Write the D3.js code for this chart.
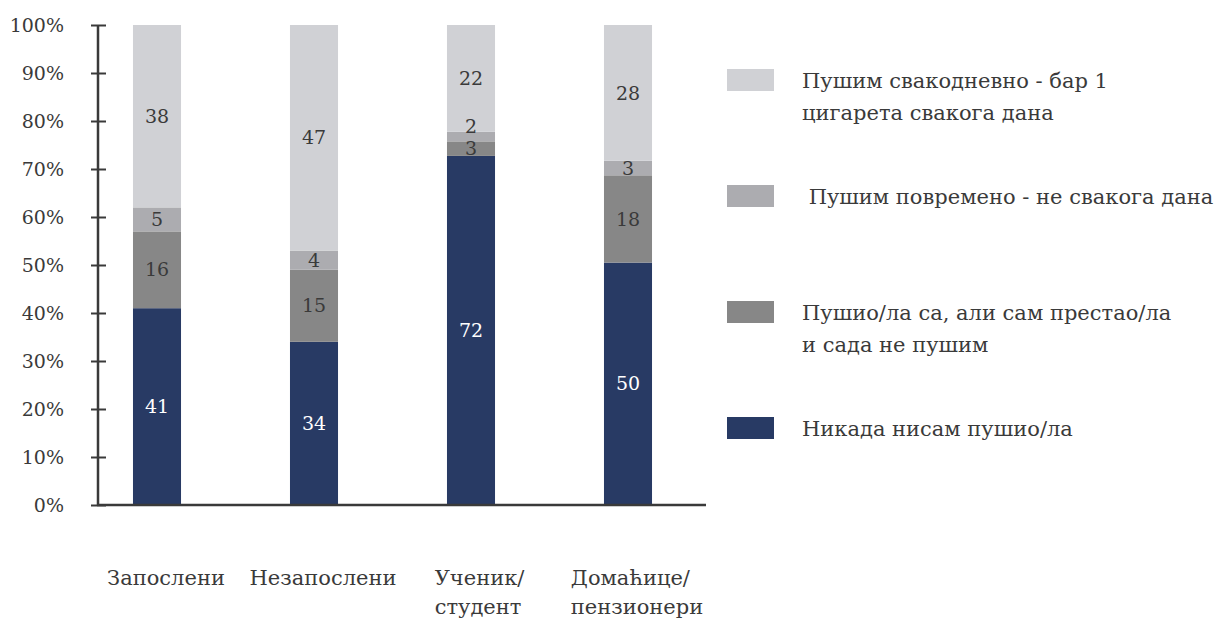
<!DOCTYPE html>
<html>
<head>
<meta charset="utf-8">
<script src="https://cdn.jsdelivr.net/npm/d3@7"></script>
<style>
  body { margin: 0; background: #fff; }
  svg text { font-family: "DejaVu Serif", serif; fill: #3a3a3a; }
</style>
</head>
<body>
<svg id="chart" width="1224" height="620"></svg>
<script>
// groups along the x axis
var groups = ["Запослени", "Незапослени", "Ученик/ студент", "Домаћице/ пензионери"];
var groupLines = [["Запослени"], ["Незапослени"], ["Ученик/", "студент"], ["Домаћице/", "пензионери"]];

// answers, bottom of the stack first
var series = ["Никада нисам пушио/ла", "Пушио/ла са, али сам престао/ла и сада не пушим",
    "Пушим повремено - не свакога дана", "Пушим свакодневно - бар 1 цигарета свакога дана"];
var colors = ["#283a64", "#878787", "#acacb0", "#d0d1d5"];

// values per group (same order as groups)
var never      = [41, 34, 72, 50];
var quit       = [16, 15, 3, 18];
var sometimes  = [5, 4, 2, 3];
var daily      = [38, 47, 22, 28];

var yTicks = [0, 10, 20, 30, 40, 50, 60, 70, 80, 90, 100];

// legend, top to bottom, with line breaks as in the picture
var legendLines = [
    ["Пушим свакодневно - бар 1", "цигарета свакога дана"],
    [" Пушим повремено - не свакога дана"],
    ["Пушио/ла са, али сам престао/ла", "и сада не пушим"],
    ["Никада нисам пушио/ла"]
];
var legendColors = [colors[3], colors[2], colors[1], colors[0]];

var svg = d3.select("#chart");
var fontSize = 19;      // numbers
var labelSize = 21;     // words

var rows = groups.map(function(g, i) {
    return {group: g, never: never[i], quit: quit[i], sometimes: sometimes[i], daily: daily[i]};
});
var keys = ["never", "quit", "sometimes", "daily"];
var values = {never: never, quit: quit, sometimes: sometimes, daily: daily};

// normalise each bar to 100%
var stack = d3.stack().keys(keys).offset(d3.stackOffsetExpand);
var stacked = stack(rows);

var x = d3.scaleBand()
    .domain(groups)
    .range([78.5, 706.5])
    .paddingInner(0.694)
    .paddingOuter(0.347);

var y = d3.scaleLinear()
    .domain([0, 1])
    .range([505, 25]);

// bars
var layer = svg.selectAll("g.layer")
    .data(stacked)
    .enter().append("g")
    .attr("class", "layer")
    .attr("fill", function(d, i) { return colors[i]; });

layer.selectAll("rect")
    .data(function(d) { return d; })
    .enter().append("rect")
    .attr("x", function(d) { return x(d.data.group); })
    .attr("y", function(d) { return y(d[1]); })
    .attr("width", x.bandwidth())
    .attr("height", function(d) { return y(d[0]) - y(d[1]); });

// segment labels, centred; a label too close to the one below is pushed up
var lastY = groups.map(function() { return 1e9; });
stacked.forEach(function(s, si) {
    svg.append("g").selectAll("text")
        .data(s)
        .enter().append("text")
        .attr("x", function(d) { return x(d.data.group) + x.bandwidth() / 2; })
        .attr("y", function(d, i) {
            var cy = (y(d[0]) + y(d[1])) / 2;
            if (lastY[i] - cy < 22) cy = lastY[i] - 22;
            lastY[i] = cy;
            return cy;
        })
        .attr("dy", "0.35em")
        .attr("text-anchor", "middle")
        .style("font-size", fontSize + "px")
        .style("fill", si == 0 ? "#ffffff" : "#3a3a3a")
        .text(function(d, i) { return values[s.key][i]; });
});

// y axis
var yAxis = d3.axisLeft(y)
    .tickValues(yTicks.map(function(t) { return t / 100; }))
    .tickFormat(function(d) { return Math.round(d * 100) + "%"; })
    .tickSize(7)
    .tickPadding(27);

var gy = svg.append("g")
    .attr("transform", "translate(98,0)")
    .call(yAxis);
gy.attr("font-family", null).attr("font-size", null);
gy.select(".domain").remove();
gy.selectAll(".tick line").attr("x1", 8).attr("x2", -7).attr("stroke", "#3a3a3a").attr("stroke-width", 2);
gy.selectAll(".tick text").style("font-size", fontSize + "px").attr("fill", "#3a3a3a");
gy.append("line").attr("x1", 0).attr("x2", 0).attr("y1", 25).attr("y2", 506)
    .attr("stroke", "#3a3a3a").attr("stroke-width", 2.5);

// x axis line
svg.append("line")
    .attr("x1", 97).attr("x2", 706).attr("y1", 505).attr("y2", 505)
    .attr("stroke", "#3a3a3a").attr("stroke-width", 2.5);

// x category labels (left aligned block centred near the bar)
groups.forEach(function(g, i) {
    var t = svg.append("text")
        .style("font-size", labelSize + "px");
    groupLines[i].forEach(function(line, li) {
        t.append("tspan").attr("x", 0).attr("y", 585 + li * 29).text(line);
    });
    var w = t.node().getBBox().width;
    var cx = x(g) + x.bandwidth() / 2 + 9;
    t.attr("transform", "translate(" + (cx - w / 2) + ",0)");
});

// legend
var legend = svg.append("g");
legendLines.forEach(function(lines, i) {
    var top = [69, 185, 301, 417][i];
    legend.append("rect")
        .attr("x", 727).attr("y", top)
        .attr("width", 47).attr("height", 22)
        .attr("fill", legendColors[i]);
    var t = legend.append("text")
        .style("font-size", labelSize + "px")
        .attr("xml:space", "preserve");
    lines.forEach(function(line, li) {
        t.append("tspan").attr("x", 802).attr("y", top + 19 + li * 32).text(line);
    });
});
</script>
</body>
</html>
